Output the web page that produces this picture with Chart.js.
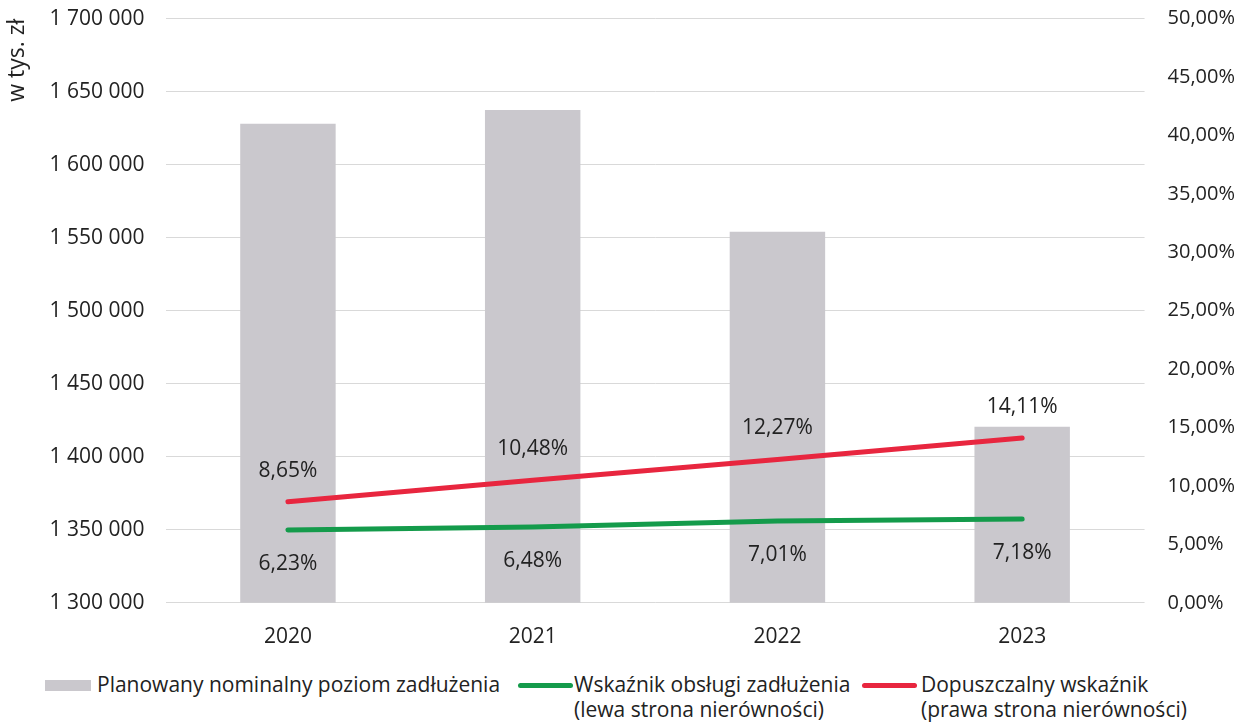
<!DOCTYPE html>
<html>
<head>
<meta charset="utf-8">
<script src="https://cdn.jsdelivr.net/npm/chart.js@4.4.0/dist/chart.umd.min.js"></script>
<style>
  html, body { margin: 0; padding: 0; background: #fff; }
  #wrap { position: relative; width: 1250px; height: 728px; overflow: hidden; }
  #box { position: absolute; left: 0; top: -15px; width: 1250px; height: 679px; }
  .legend { position: absolute; top: 672px; left: 45px; font-family: "Open Sans", sans-serif; font-size: 21px; color: #222; line-height: 25px; }
  .item { position: absolute; top: 0; white-space: nowrap; }
  .swatch { position: absolute; }
  .txt { position: absolute; top: 0; }
</style>
</head>
<body>
<div id="wrap">
  <div id="box"><canvas id="chart"></canvas></div>
  <div class="legend">
    <div class="item" style="left:0">
      <div class="swatch" style="left:0;top:8px;width:46px;height:11px;background:#cac8cd"></div>
      <div class="txt" style="left:52px">Planowany nominalny poziom zadłużenia</div>
    </div>
    <div class="item" style="left:473px">
      <div class="swatch" style="left:0;top:11px;width:55px;height:5px;border-radius:3px;background:#149b4b"></div>
      <div class="txt" style="left:56px">Wskaźnik obsługi zadłużenia<br>(lewa strona nierówności)</div>
    </div>
    <div class="item" style="left:817px">
      <div class="swatch" style="left:0;top:11px;width:55px;height:5px;border-radius:3px;background:#e8263f"></div>
      <div class="txt" style="left:59px">Dopuszczalny wskaźnik<br>(prawa strona nierówności)</div>
    </div>
  </div>
</div>
<script>
// dane z wykresu
var years = ["2020", "2021", "2022", "2023"];
var debtLevel = [1628000, 1637500, 1554000, 1420500];
var serviceRatio = [6.23, 6.48, 7.01, 7.18];
var allowedRatio = [8.65, 10.48, 12.27, 14.11];

var font = "'Open Sans', sans-serif";

function pl(v, d) {
  return v.toFixed(d).replace(".", ",");
}

// podpisy wartości przy punktach linii
var pointLabels = {
  id: "pointLabels",
  afterDatasetsDraw: function(chart) {
    var ctx = chart.ctx;
    ctx.save();
    ctx.font = "21px " + font;
    ctx.fillStyle = "#222";
    ctx.textAlign = "center";
    ctx.textBaseline = "middle";
    chart.data.datasets.forEach(function(ds, i) {
      if (ds.type !== "line") return;
      var meta = chart.getDatasetMeta(i);
      meta.data.forEach(function(pt, j) {
        var dy = ds.labelPos === "above" ? -31 : 34;
        ctx.fillText(pl(ds.data[j], 2) + "%", pt.x, pt.y + dy);
      });
    });
    ctx.restore();
  }
};

new Chart(document.getElementById("chart"), {
  data: {
    labels: years,
    datasets: [
      {
        type: "line",
        label: "Wskaźnik obsługi zadłużenia",
        data: serviceRatio,
        yAxisID: "y1",
        borderColor: "#149b4b",
        borderWidth: 5,
        borderCapStyle: "round",
        pointRadius: 0,
        order: 1,
        labelPos: "below"
      },
      {
        type: "line",
        label: "Dopuszczalny wskaźnik",
        data: allowedRatio,
        yAxisID: "y1",
        borderColor: "#e8263f",
        borderWidth: 5,
        borderCapStyle: "round",
        pointRadius: 0,
        order: 1,
        labelPos: "above"
      },
      {
        type: "bar",
        label: "Planowany nominalny poziom zadłużenia",
        data: debtLevel,
        yAxisID: "y",
        backgroundColor: "#cac8cd",
        categoryPercentage: 1,
        barPercentage: 0.39,
        order: 2
      }
    ]
  },
  options: {
    responsive: true,
    maintainAspectRatio: false,
    animation: false,
    layout: { padding: { top: 0, right: 0, left: 4, bottom: 0 } },
    plugins: {
      legend: { display: false },
      tooltip: { enabled: false }
    },
    scales: {
      x: {
        grid: { display: false },
        border: { display: false },
        ticks: { color: "#222", font: { family: font, size: 21 }, padding: 14 }
      },
      y: {
        position: "left",
        min: 1300000,
        max: 1700000,
        ticks: {
          stepSize: 50000,
          color: "#222",
          font: { family: font, size: 21 },
          padding: 21,
          callback: function(v) {
            return String(v).replace(/\B(?=(\d{3})+(?!\d))/g, " ");
          }
        },
        grid: { color: "#d9d9d9", lineWidth: 1, drawTicks: false },
        border: { display: false },
        title: {
          display: true,
          text: "w tys. zł",
          align: "end",
          color: "#222",
          font: { family: font, size: 23 },
          padding: { top: 0, bottom: -3 }
        }
      },
      y1: {
        position: "right",
        min: 0,
        max: 50,
        ticks: {
          stepSize: 5,
          color: "#222",
          font: { family: font, size: 20 },
          padding: 15,
          callback: function(v) { return pl(v, 2) + "%"; }
        },
        grid: { display: false },
        border: { display: false }
      }
    }
  },
  plugins: [pointLabels]
});
</script>
</body>
</html>
